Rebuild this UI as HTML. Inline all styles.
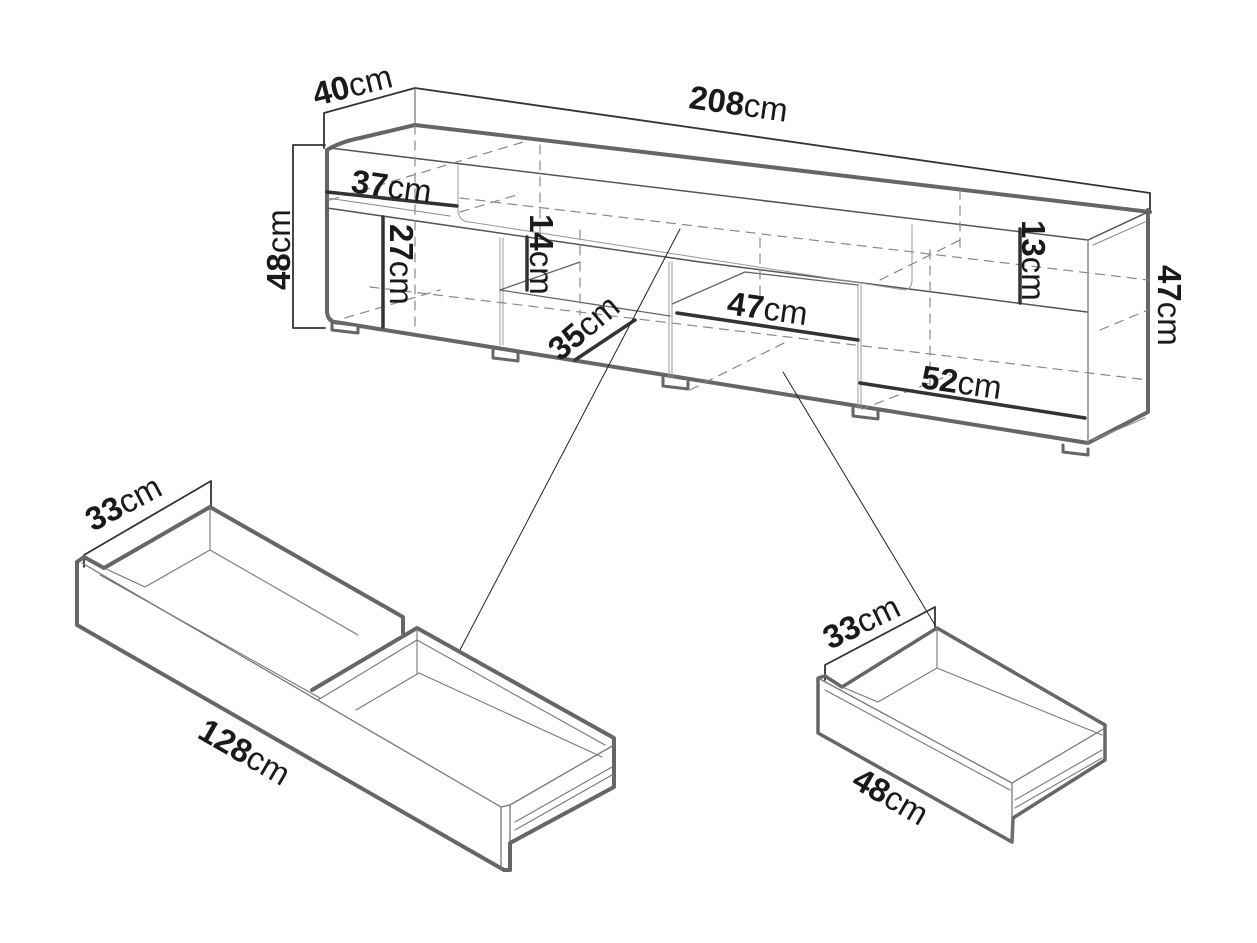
<!DOCTYPE html>
<html><head><meta charset="utf-8"><style>
html,body{margin:0;padding:0;background:#fff}
svg{display:block}
text{font-family:"Liberation Sans",sans-serif;fill:#1a1a1a}
.b{font-weight:bold}
.c{font-weight:normal}
</style></head><body>
<svg width="1257" height="943" viewBox="0 0 1257 943" xmlns="http://www.w3.org/2000/svg">
<g fill="none" stroke-linecap="round" stroke-linejoin="round">
<path d="M324,148 L324,113 L415,88 L1150,193 L1150,212" stroke="#333" stroke-width="1.8"/>
<path d="M415,88 L415,125" stroke="#555" stroke-width="1"/>
<path d="M325,145 L293,145 L293,328 L325,328" stroke="#333" stroke-width="1.8"/>

<path d="M415,125 L1150,212" stroke="#666" stroke-width="4"/>
<path d="M327,150 Q340,142 360,138 L415,125" stroke="#666" stroke-width="4"/>
<path d="M327,150 L327,312 Q328,322 338,323" stroke="#666" stroke-width="4"/>
<path d="M335,322 L1088,443 L1148,412 L1148,210" stroke="#666" stroke-width="4"/>
<path d="M330,148 L1088,240 L1148,212" stroke="#555" stroke-width="1.5"/>
<path d="M1088,240 L1088,443" stroke="#888" stroke-width="1.5"/>
<path d="M1093,245 L1145,222 M1093,440 L1145,418" stroke="#888" stroke-width="1"/>
<path d="M327,208 L700,262 L1087,312" stroke="#555" stroke-width="1.5"/>
<path d="M327,198 L450,216" stroke="#888" stroke-width="1"/>
<path d="M458,165 L458,212 Q460,222 470,222 L905,290 Q912,288 912,280 L912,225" stroke="#999" stroke-width="1"/>
<path d="M500,238 L500,345 M503,238 L503,345 M669,262 L669,378 M672,262 L672,378 M858,285 L858,410 M861,285 L861,410" stroke="#999" stroke-width="1"/>
<path d="M500,290 L580,262 M500,290 L670,316 M672,304 L745,272 L858,285" stroke="#666" stroke-width="1.3"/>
<g stroke="#888" stroke-width="1.2" stroke-dasharray="9,7">
<path d="M415,125 L415,330"/>
<path d="M330,200 L530,140"/>
<path d="M540,145 L540,240"/>
<path d="M460,198 L1148,280"/>
<path d="M580,230 L580,315"/>
<path d="M345,318 L440,290"/>
<path d="M370,287 L1148,380"/>
<path d="M760,238 L760,300"/>
<path d="M930,250 L930,390"/>
<path d="M690,390 L790,340"/>
<path d="M880,280 L960,240"/>
<path d="M960,190 L960,250"/>
<path d="M1100,330 L1148,310"/>
<path d="M860,410 L950,375"/>
<path d="M460,212 L520,194"/>
</g>
<g stroke="#666" stroke-width="3" fill="#fff">
<path d="M332,324 L332,330 L358,333 L358,327"/>
<path d="M493,350 L493,358 L518,361 L518,354"/>
<path d="M663,378 L663,386 L688,389 L688,382"/>
<path d="M853,408 L853,416 L878,419 L878,412"/>
<path d="M1063,445 L1063,452 L1088,455 L1088,449"/>
</g>
<g stroke="#333" stroke-width="3.5">
<path d="M327,192 L457,206"/>
<path d="M383,217 L383,327"/>
<path d="M527,237 L527,290"/>
<path d="M575,360 L635,320"/>
<path d="M677,313 L858,340"/>
<path d="M1020,229 L1020,303"/>
<path d="M860,383 L1085,418"/>
</g>
<path d="M680,229 L460,650" stroke="#222" stroke-width="1"/>
<path d="M783,372 L935,625" stroke="#222" stroke-width="1"/>

<path d="M84,555 L211,481 M84,555 L84,567 M211,481 L211,507" stroke="#333" stroke-width="1.8"/>
<path d="M77,562 L77,625 L504,870 L510,870 L510,843 L614,787 L614,738 L417,628 L312,690" stroke="#666" stroke-width="4"/>
<path d="M77,562 L84,557 L104,568 L210,507 L403,617 L403,633" stroke="#666" stroke-width="4"/>
<path d="M82,563 L501,807 L501,870 M501,807 L510,805 L614,745 M510,805 L510,843" stroke="#777" stroke-width="1.3"/>
<path d="M104,568 L145,587 L210,550 L358,635 M210,507 L210,550 M100,575 L320,698 M356,710 L419,673 L602,757 M417,628 L417,673 M318,700 L417,640 L605,745 M515,830 L612,775 M515,822 L612,767" stroke="#777" stroke-width="1.1"/>

<path d="M825,665 L935,607 M825,665 L825,680 M935,607 L935,628" stroke="#333" stroke-width="1.8"/>
<path d="M818,678 L818,733 L1012,842 L1013,818 L1105,760 L1105,725 L937,628 L842,687 L825,676 Z" stroke="#666" stroke-width="3.5"/>
<path d="M818,678 L1012,783 L1012,842 M1012,783 L1105,728" stroke="#777" stroke-width="1.3"/>
<path d="M842,687 L878,702 L937,668 L1102,735 M937,628 L937,668 M825,690 L1010,790 M1015,800 L1102,750 M1015,808 L1102,758" stroke="#777" stroke-width="1.1"/>
</g>

<g font-size="33">
<text transform="translate(316,106) rotate(-14)"><tspan class="b">40</tspan><tspan class="c">cm</tspan></text>
<text transform="translate(688,108) rotate(8)"><tspan class="b">208</tspan><tspan class="c">cm</tspan></text>
<text transform="translate(350,192) rotate(8)"><tspan class="b">37</tspan><tspan class="c">cm</tspan></text>
<text transform="translate(290,290) rotate(-90)"><tspan class="b">48</tspan><tspan class="c">cm</tspan></text>
<text transform="translate(390,224) rotate(90)"><tspan class="b">27</tspan><tspan class="c">cm</tspan></text>
<text transform="translate(530,214) rotate(90)"><tspan class="b">14</tspan><tspan class="c">cm</tspan></text>
<text transform="translate(1022,220) rotate(90)"><tspan class="b">13</tspan><tspan class="c">cm</tspan></text>
<text transform="translate(1158,265) rotate(90)"><tspan class="b">47</tspan><tspan class="c">cm</tspan></text>
<text transform="translate(726,314) rotate(8)"><tspan class="b">47</tspan><tspan class="c">cm</tspan></text>
<text transform="translate(560,362) rotate(-40)"><tspan class="b">35</tspan><tspan class="c">cm</tspan></text>
<text transform="translate(920,388) rotate(8)"><tspan class="b">52</tspan><tspan class="c">cm</tspan></text>
<text transform="translate(93,532) rotate(-28)"><tspan class="b">33</tspan><tspan class="c">cm</tspan></text>
<text transform="translate(196,737) rotate(30)"><tspan class="b">128</tspan><tspan class="c">cm</tspan></text>
<text transform="translate(830,650) rotate(-26)"><tspan class="b">33</tspan><tspan class="c">cm</tspan></text>
<text transform="translate(850,786) rotate(30)"><tspan class="b">48</tspan><tspan class="c">cm</tspan></text>
</g>
</svg>
</body></html>
